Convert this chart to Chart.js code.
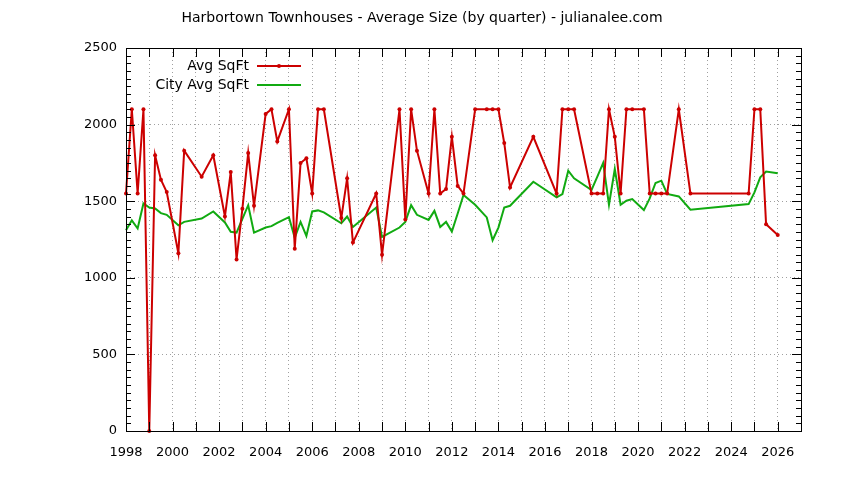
<!DOCTYPE html>
<html>
<head>
<meta charset="utf-8">
<script src="https://cdn.jsdelivr.net/npm/chart.js@4.4.0/dist/chart.umd.min.js"></script>
<style>
html,body{margin:0;padding:0;background:#ffffff;}
#wrap{width:844px;height:480px;position:relative;}
</style>
</head>
<body>
<div id="wrap"><canvas id="c" width="844" height="480"></canvas></div>
<script>
const chartTitle = "Harbortown Townhouses - Average Size (by quarter) - julianalee.com";
const seriesNames = ["Avg SqFt", "City Avg SqFt"];

// quarter positions (decimal years)
const quarters = [
  1998.0, 1998.25, 1998.5, 1998.75, 1999.0, 1999.25, 1999.5, 1999.75,
  2000.25, 2000.5, 2001.25, 2001.75, 2002.25, 2002.5, 2002.75, 2003.0,
  2003.25, 2003.5, 2004.0, 2004.25, 2004.5, 2005.0, 2005.25, 2005.5,
  2005.75, 2006.0, 2006.25, 2006.5, 2007.25, 2007.5, 2007.75, 2008.75,
  2009.0, 2009.75, 2010.0, 2010.25, 2010.5, 2011.0, 2011.25, 2011.5,
  2011.75, 2012.0, 2012.25, 2012.5, 2013.0, 2013.5, 2013.75, 2014.0,
  2014.25, 2014.5, 2015.5, 2016.5, 2016.75, 2017.0, 2017.25, 2018.0,
  2018.25, 2018.5, 2018.75, 2019.0, 2019.25, 2019.5, 2019.75, 2020.25,
  2020.5, 2020.75, 2021.0, 2021.25, 2021.75, 2022.25, 2024.75, 2025.0,
  2025.25, 2025.5, 2026.0
];

const avgSqft = [
  1550, 2100, 1550, 2100, 0, 1800, 1640, 1560,
  1160, 1830, 1660, 1800, 1400, 1690, 1120, 1450,
  1815, 1470, 2070, 2100, 1890, 2100, 1190, 1750,
  1780, 1550, 2100, 2100, 1390, 1650, 1230, 1550,
  1150, 2100, 1380, 2100, 1830, 1550, 2100, 1550,
  1580, 1920, 1600, 1550, 2100, 2100, 2100, 2100,
  1880, 1590, 1920, 1550, 2100, 2100, 2100, 1550,
  1550, 1550, 2100, 1920, 1550, 2100, 2100, 2100,
  1550, 1550, 1550, 1550, 2100, 1550, 1550, 2100,
  2100, 1350, 1280
];

const cityAvgSqft = [
  1310, 1375, 1322, 1485, 1459, 1453, 1422, 1411,
  1343, 1365, 1387, 1433, 1361, 1300, 1295, 1385,
  1474, 1295, 1328, 1337, 1358, 1396, 1262, 1365,
  1273, 1433, 1440, 1427, 1356, 1400, 1332, 1459,
  1267, 1328, 1365, 1474, 1411, 1378, 1437, 1332,
  1365, 1302, 1420, 1540, 1477, 1394, 1245, 1328,
  1459, 1470, 1627, 1525, 1547, 1699, 1649, 1573,
  1660, 1750, 1477, 1710, 1477, 1503, 1514, 1442,
  1518, 1619, 1634, 1547, 1531, 1444, 1481, 1557,
  1656, 1693, 1682
];

const xMin = 1998, xMax = 2027, xLabelStep = 2, xLastLabel = 2026;
const yMin = 0, yMax = 2500, yMajorStep = 500, yMinorStep = 50;

const FONT = "'DejaVu Sans', sans-serif";
const RED = "#cc0000";
const GREEN = "#11aa11";
const GRID = "#a0a0a0";

const framePlugin = {
  id: 'frameTicks',
  afterDatasetsDraw(chart) {
    const ctx = chart.ctx, a = chart.chartArea;
    const xs = chart.scales.x, ys = chart.scales.y;
    ctx.save();
    ctx.strokeStyle = '#000';
    ctx.lineWidth = 1;
    ctx.setLineDash([]);
    ctx.beginPath();
    for (let yr = xMin; yr <= xMax; yr++) {
      const px = Math.round(xs.getPixelForValue(yr)) + 0.5;
      ctx.moveTo(px, a.bottom); ctx.lineTo(px, a.bottom - 9);
      ctx.moveTo(px, a.top); ctx.lineTo(px, a.top + 9);
    }
    for (let v = yMin; v <= yMax; v += yMinorStep) {
      const py = Math.round(ys.getPixelForValue(v)) + 0.5;
      const len = (v % yMajorStep === 0) ? 9 : 5;
      ctx.moveTo(a.left, py); ctx.lineTo(a.left + len, py);
      ctx.moveTo(a.right, py); ctx.lineTo(a.right - len, py);
    }
    ctx.stroke();
    ctx.strokeRect(Math.round(a.left) + 0.5, Math.round(a.top) + 0.5,
                   Math.round(a.right - a.left), Math.round(a.bottom - a.top));
    // title, centred on the full canvas
    ctx.font = "14px " + FONT;
    ctx.fillStyle = '#000';
    ctx.textAlign = 'center';
    ctx.textBaseline = 'middle';
    ctx.fillText(chartTitle, chart.width / 2, 18.5);
    // legend
    ctx.textAlign = 'right';
    const dsets = chart.data.datasets;
    dsets.forEach((ds, i) => {
      const ly = a.top + 18 + i * 19;
      ctx.fillText(ds.label, a.left + 123, ly);
      ctx.strokeStyle = ds.borderColor;
      ctx.lineWidth = 2;
      ctx.beginPath();
      ctx.moveTo(a.left + 131, ly); ctx.lineTo(a.left + 175, ly);
      ctx.stroke();
      if (ds.pointRadius > 0) {
        ctx.fillStyle = ds.borderColor;
        ctx.beginPath();
        ctx.arc(a.left + 153, ly, ds.pointRadius, 0, Math.PI * 2);
        ctx.fill();
        ctx.fillStyle = '#000';
      }
    });
    ctx.restore();
  }
};

new Chart(document.getElementById('c'), {
  type: 'line',
  data: {
    datasets: [
      {
        label: seriesNames[0],
        data: quarters.map((q, i) => ({x: q, y: avgSqft[i]})),
        borderColor: RED,
        backgroundColor: RED,
        borderWidth: 2,
        pointRadius: 2,
        pointHoverRadius: 2,
        pointBorderWidth: 0,
        tension: 0,
        fill: false,
        clip: 6
      },
      {
        label: seriesNames[1],
        data: quarters.map((q, i) => ({x: q, y: cityAvgSqft[i]})),
        borderColor: GREEN,
        backgroundColor: GREEN,
        borderWidth: 2,
        pointRadius: 0,
        tension: 0,
        fill: false,
        clip: 6
      }
    ]
  },
  options: {
    responsive: false,
    animation: false,
    devicePixelRatio: 1,
    layout: { padding: { left: 0, right: 43, top: 48, bottom: 0 } },
    plugins: {
      legend: { display: false },
      tooltip: { enabled: false },
      title: { display: false }
    },
    scales: {
      x: {
        type: 'linear',
        min: xMin, max: xMax,
        afterFit(s) { s.height = 49; },
        border: { display: false, dash: [1, 3] },
        grid: {
          drawTicks: false,
          color: c => (c.tick && (c.tick.value === xMin || c.tick.value === xMax)) ? 'rgba(0,0,0,0)' : GRID,
          lineWidth: 1,
          borderDash: [1, 3]
        },
        ticks: {
          stepSize: 1,
          autoSkip: false,
          maxRotation: 0,
          color: '#000',
          padding: 14,
          font: { family: FONT, size: 13 },
          callback: v => (v % xLabelStep === 0 && v <= xLastLabel) ? String(v) : ''
        }
      },
      y: {
        min: yMin, max: yMax,
        afterFit(s) { s.width = 126; },
        border: { display: false, dash: [1, 3] },
        grid: {
          drawTicks: false,
          color: c => (c.tick && (c.tick.value === yMin || c.tick.value === yMax)) ? 'rgba(0,0,0,0)' : GRID,
          lineWidth: 1,
          borderDash: [1, 3]
        },
        ticks: {
          stepSize: yMajorStep,
          color: '#000',
          padding: 9,
          font: { family: FONT, size: 13 },
          callback: v => String(v)
        }
      }
    }
  },
  plugins: [framePlugin]
});
</script>
</body>
</html>
